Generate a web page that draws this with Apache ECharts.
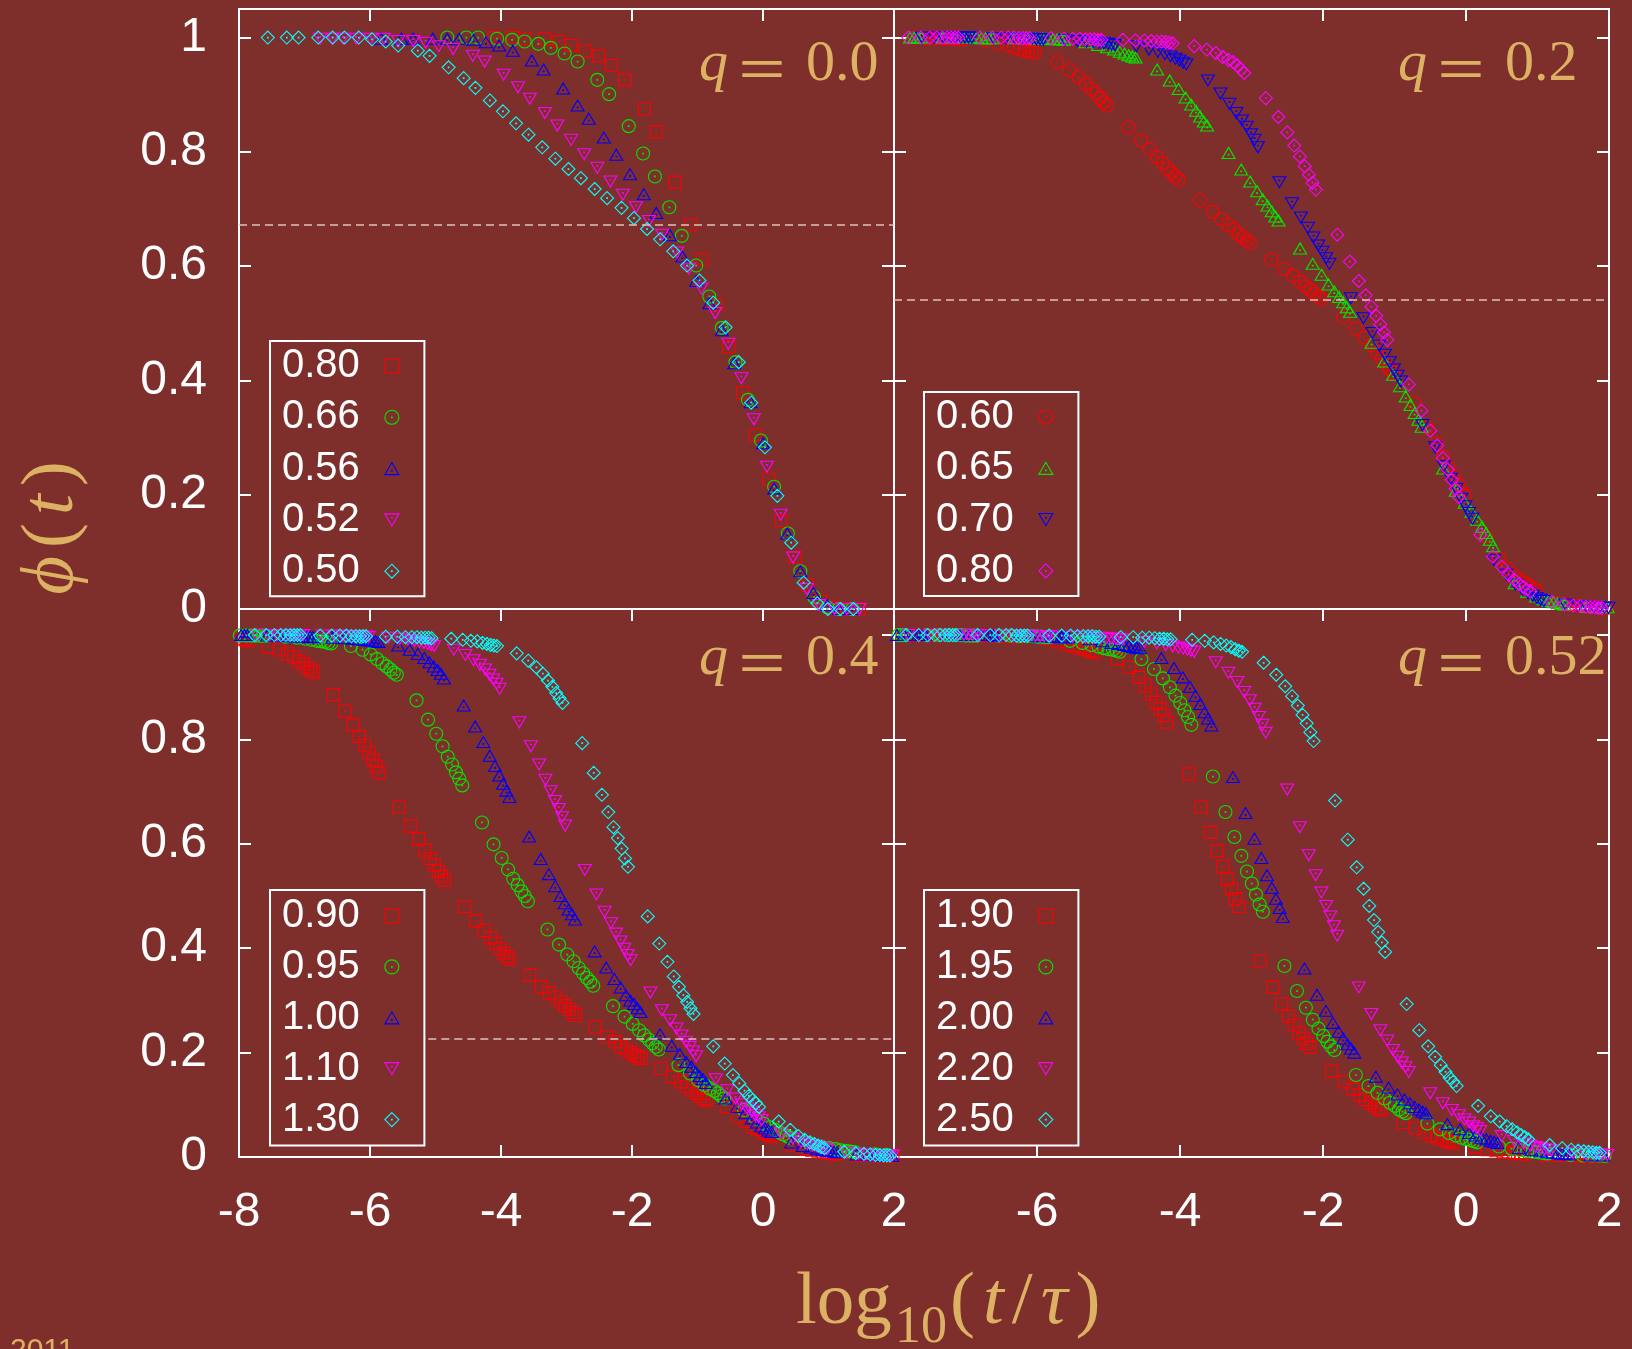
<!DOCTYPE html>
<html><head><meta charset="utf-8">
<script src="https://cdn.jsdelivr.net/npm/echarts@6/dist/echarts.min.js"></script>
<style>html,body{margin:0;padding:0;background:#7e2f2c;}#c{width:1632px;height:1349px;}</style>
</head><body><div id="c"></div>
<script>
// ---------------- DATA ----------------
const Q_LABELS = ['0.0', '0.2', '0.4', '0.52'];
const X_LABELS_LEFT = ['-8', '-6', '-4', '-2', '0', '2'];
const X_LABELS_RIGHT = ['', '-6', '-4', '-2', '0', '2'];
const Y_LABELS_TOP = ['0', '0.2', '0.4', '0.6', '0.8', '1'];
const Y_LABELS_BOTTOM = ['0', '0.2', '0.4', '0.6', '0.8'];
const DASH_LEVELS = [0.673, 0.542, 0.227];
const DASH_START = [-8, -8, -5.11];

const LEG_TL = ['0.80', '0.66', '0.56', '0.52', '0.50'];
const LEG_TR = ['0.60', '0.65', '0.70', '0.80'];
const LEG_BL = ['0.90', '0.95', '1.00', '1.10', '1.30'];
const LEG_BR = ['1.90', '1.95', '2.00', '2.20', '2.50'];

// q = 0.0
const TL_080 = [[-4.11,1.0],[-3.82,1.0],[-3.64,0.998],[-3.33,0.998],[-3.11,0.993],[-2.93,0.986],[-2.71,0.977],[-2.51,0.968],[-2.31,0.951],[-2.11,0.926],[-1.81,0.875],[-1.63,0.835],[-1.34,0.747],[-1.11,0.672],[-0.93,0.612],[-0.71,0.533],[-0.52,0.459],[-0.31,0.379],[-0.12,0.305],[0.09,0.227],[0.28,0.155],[0.49,0.090],[0.68,0.042],[0.88,0.014],[1.07,0.003],[1.28,0.0],[1.47,0.0]];
const TL_066 = [[-4.82,1.0],[-4.53,1.0],[-4.35,1.0],[-4.06,0.998],[-3.83,0.996],[-3.64,0.993],[-3.43,0.989],[-3.24,0.982],[-3.03,0.972],[-2.83,0.958],[-2.53,0.926],[-2.35,0.901],[-2.05,0.845],[-1.83,0.797],[-1.65,0.757],[-1.43,0.703],[-1.24,0.653],[-1.02,0.601],[-0.82,0.547],[-0.63,0.492],[-0.42,0.432],[-0.23,0.366],[-0.03,0.295],[0.17,0.214],[0.38,0.132],[0.57,0.066],[0.78,0.021],[0.98,0.003],[1.16,0.0],[1.36,0.0]];
const TL_056 = [[-5.83,0.998],[-5.52,0.998],[-5.34,0.998],[-5.04,0.998],[-4.82,0.998],[-4.64,0.998],[-4.42,0.996],[-4.23,0.992],[-4.03,0.986],[-3.82,0.977],[-3.53,0.960],[-3.35,0.944],[-3.05,0.911],[-2.83,0.881],[-2.66,0.858],[-2.43,0.825],[-2.24,0.795],[-2.03,0.761],[-1.82,0.726],[-1.63,0.693],[-1.42,0.654],[-1.23,0.617],[-1.02,0.574],[-0.82,0.535],[-0.63,0.488],[-0.44,0.430],[-0.19,0.362],[0.0,0.290],[0.17,0.211],[0.37,0.132],[0.57,0.066],[0.77,0.028],[0.98,0.007],[1.16,0.0],[1.36,0.0]];
const TL_052 = [[-6.76,0.998],[-6.57,0.998],[-6.41,0.998],[-6.21,0.998],[-5.99,0.998],[-5.79,0.998],[-5.57,0.994],[-5.34,0.994],[-5.15,0.991],[-4.95,0.985],[-4.73,0.980],[-4.43,0.968],[-4.25,0.958],[-3.96,0.935],[-3.74,0.913],[-3.56,0.893],[-3.33,0.868],[-3.14,0.846],[-2.93,0.821],[-2.73,0.796],[-2.53,0.772],[-2.33,0.748],[-2.14,0.725],[-1.94,0.703],[-1.74,0.679],[-1.54,0.655],[-1.31,0.624],[-1.13,0.596],[-0.94,0.561],[-0.73,0.518],[-0.53,0.464],[-0.33,0.404],[-0.14,0.332],[0.06,0.249],[0.27,0.165],[0.46,0.090],[0.67,0.035],[0.86,0.007],[1.09,0.0],[1.28,0.0],[1.47,0.0]];
const TL_050 = [[-7.56,1.0],[-7.27,1.0],[-7.09,1.0],[-6.79,1.0],[-6.57,1.0],[-6.39,1.0],[-6.17,1.0],[-5.97,0.997],[-5.76,0.993],[-5.57,0.986],[-5.27,0.977],[-5.09,0.968],[-4.80,0.948],[-4.57,0.929],[-4.39,0.912],[-4.17,0.890],[-3.97,0.871],[-3.77,0.850],[-3.58,0.830],[-3.37,0.808],[-3.17,0.788],[-2.97,0.770],[-2.78,0.754],[-2.57,0.735],[-2.38,0.719],[-2.16,0.702],[-1.97,0.684],[-1.77,0.665],[-1.57,0.647],[-1.37,0.626],[-1.16,0.601],[-0.97,0.575],[-0.76,0.536],[-0.57,0.493],[-0.37,0.432],[-0.18,0.361],[0.03,0.283],[0.22,0.198],[0.43,0.116],[0.62,0.046],[0.83,0.010],[0.99,0.0],[1.18,0.0],[1.38,0.0]];

// q = 0.2
const TR_060 = [[-7.72,1.0],[-7.544,0.999],[-7.419,0.999],[-7.322,0.999],[-7.243,0.998],[-7.176,0.998],[-7.118,0.998],[-7.067,0.997],[-7.021,0.997],
[-6.72,0.995],[-6.544,0.99],[-6.419,0.986],[-6.322,0.982],[-6.243,0.979],[-6.176,0.977],[-6.118,0.976],[-6.067,0.975],[-6.021,0.974],
[-5.72,0.957],[-5.544,0.943],[-5.419,0.931],[-5.322,0.919],[-5.243,0.91],[-5.176,0.902],[-5.118,0.894],[-5.067,0.887],[-5.021,0.881],
[-4.72,0.843],[-4.544,0.82],[-4.419,0.804],[-4.322,0.791],[-4.243,0.781],[-4.176,0.771],[-4.118,0.763],[-4.067,0.757],[-4.021,0.751],
[-3.72,0.715],[-3.544,0.695],[-3.419,0.682],[-3.322,0.672],[-3.243,0.664],[-3.176,0.656],[-3.118,0.65],[-3.067,0.645],[-3.021,0.641],
[-2.72,0.612],[-2.544,0.595],[-2.419,0.583],[-2.322,0.573],[-2.243,0.565],[-2.176,0.558],[-2.118,0.552],[-2.067,0.547],[-2.021,0.543],
[-1.72,0.51],[-1.544,0.491],[-1.419,0.475],[-1.322,0.461],[-1.243,0.449],[-1.176,0.438],[-1.118,0.428],[-1.067,0.42],[-1.021,0.413],
[-0.72,0.36],[-0.544,0.318],[-0.419,0.29],[-0.322,0.267],[-0.243,0.248],[-0.176,0.232],[-0.118,0.219],[-0.067,0.208],[-0.021,0.198],
[0.28,0.127],[0.456,0.089],[0.581,0.071],[0.678,0.058],[0.757,0.051],[0.824,0.045],[0.882,0.04],[0.933,0.036],[0.979,0.033],
[1.28,0.01],[1.456,0.007],[1.581,0.005],[1.678,0.004],[1.757,0.003],[1.824,0.003],[1.882,0.002],[1.933,0.002],[1.979,0.002]];
const TR_065 = [[-7.776,1.0],[-7.718,1.0],[-7.667,1.0],[-7.621,1.0],
[-7.32,1.0],[-7.144,1.0],[-7.019,1.0],[-6.922,1.0],[-6.843,1.0],[-6.776,0.999],[-6.718,0.999],[-6.667,0.999],[-6.621,0.999],
[-6.32,0.999],[-6.144,0.999],[-6.019,0.998],[-5.922,0.998],[-5.843,0.998],[-5.776,0.997],[-5.718,0.997],[-5.667,0.997],[-5.621,0.996],
[-5.32,0.992],[-5.144,0.987],[-5.019,0.983],[-4.922,0.979],[-4.843,0.975],[-4.776,0.972],[-4.718,0.969],[-4.667,0.967],[-4.621,0.965],
[-4.32,0.944],[-4.144,0.925],[-4.019,0.91],[-3.922,0.895],[-3.843,0.883],[-3.776,0.872],[-3.718,0.862],[-3.667,0.853],[-3.621,0.846],
[-3.32,0.798],[-3.144,0.769],[-3.019,0.748],[-2.922,0.731],[-2.843,0.717],[-2.776,0.706],[-2.718,0.696],[-2.667,0.687],[-2.621,0.68],
[-2.32,0.631],[-2.144,0.604],[-2.019,0.585],[-1.922,0.568],[-1.843,0.556],[-1.776,0.546],[-1.718,0.537],[-1.667,0.528],[-1.621,0.52],
[-1.32,0.466],[-1.144,0.433],[-1.019,0.41],[-0.922,0.39],[-0.843,0.372],[-0.776,0.357],[-0.718,0.343],[-0.667,0.331],[-0.621,0.319],
[-0.32,0.246],[-0.144,0.207],[-0.019,0.186],[0.078,0.17],[0.157,0.156],[0.224,0.144],[0.282,0.133],[0.333,0.121],[0.379,0.11],
[0.68,0.045],[0.856,0.03],[0.981,0.022],[1.078,0.017],[1.157,0.014],[1.224,0.012],[1.282,0.01],[1.333,0.009],[1.379,0.008],
[1.68,0.004],[1.856,0.003],[1.981,0.003]];
const TR_070 = [[-7.61,1.0],[-7.434,1.0],[-7.309,1.0],[-7.212,1.0],[-7.133,1.0],[-7.066,1.0],[-7.008,1.0],[-6.957,1.0],[-6.911,1.0],
[-6.61,0.999],[-6.434,0.999],[-6.309,0.999],[-6.212,0.998],[-6.133,0.998],[-6.066,0.998],[-6.008,0.997],[-5.957,0.997],[-5.911,0.997],
[-5.61,0.996],[-5.434,0.994],[-5.309,0.993],[-5.212,0.992],[-5.133,0.991],[-5.066,0.99],[-5.008,0.989],[-4.957,0.988],[-4.911,0.987],
[-4.61,0.985],[-4.434,0.979],[-4.309,0.975],[-4.212,0.971],[-4.133,0.967],[-4.066,0.963],[-4.008,0.96],[-3.957,0.956],[-3.911,0.953],
[-3.61,0.925],[-3.434,0.902],[-3.309,0.884],[-3.212,0.868],[-3.133,0.855],[-3.066,0.844],[-3.008,0.831],[-2.957,0.821],[-2.911,0.808],
[-2.61,0.747],[-2.434,0.71],[-2.309,0.685],[-2.212,0.667],[-2.133,0.65],[-2.066,0.636],[-2.008,0.625],[-1.957,0.614],[-1.911,0.604],
[-1.61,0.544],[-1.434,0.509],[-1.309,0.483],[-1.212,0.461],[-1.133,0.445],[-1.066,0.432],[-1.008,0.419],[-0.957,0.408],[-0.911,0.398],
[-0.61,0.322],[-0.434,0.283],[-0.309,0.25],[-0.212,0.228],[-0.133,0.21],[-0.066,0.193],[-0.008,0.18],[0.043,0.168],[0.089,0.158],
[0.39,0.086],[0.566,0.06],[0.691,0.043],[0.788,0.034],[0.867,0.028],[0.934,0.023],[0.992,0.019],[1.043,0.016],[1.089,0.014],
[1.39,0.008],[1.566,0.005],[1.691,0.004],[1.788,0.003],[1.867,0.003],[1.934,0.002],[1.992,0.002]];
const TR_080 = [[-7.8,1.0],[-7.624,1.0],[-7.499,1.0],[-7.402,1.0],[-7.323,1.0],[-7.256,1.0],[-7.198,1.0],[-7.147,1.0],[-7.101,1.0],
[-6.8,1.0],[-6.624,1.0],[-6.499,1.0],[-6.402,1.0],[-6.323,1.0],[-6.256,0.999],[-6.198,0.999],[-6.147,0.999],[-6.101,0.999],
[-5.8,0.999],[-5.624,0.998],[-5.499,0.998],[-5.402,0.998],[-5.323,0.997],[-5.256,0.997],[-5.198,0.997],[-5.147,0.996],[-5.101,0.996],
[-4.8,0.996],[-4.624,0.995],[-4.499,0.995],[-4.402,0.994],[-4.323,0.993],[-4.256,0.993],[-4.198,0.992],[-4.147,0.991],[-4.101,0.99],
[-3.8,0.985],[-3.624,0.979],[-3.499,0.973],[-3.402,0.966],[-3.323,0.961],[-3.256,0.957],[-3.198,0.951],[-3.147,0.944],[-3.101,0.938],
[-2.8,0.894],[-2.624,0.861],[-2.499,0.834],[-2.402,0.811],[-2.323,0.792],[-2.256,0.775],[-2.198,0.76],[-2.147,0.746],[-2.101,0.734],
[-1.8,0.655],[-1.624,0.608],[-1.499,0.574],[-1.402,0.549],[-1.323,0.529],[-1.256,0.513],[-1.198,0.498],[-1.147,0.484],[-1.101,0.471],
[-0.8,0.393],[-0.624,0.347],[-0.499,0.312],[-0.402,0.286],[-0.323,0.264],[-0.256,0.244],[-0.198,0.226],[-0.147,0.21],[-0.101,0.196],
[0.2,0.13],[0.376,0.092],[0.501,0.074],[0.598,0.06],[0.677,0.051],[0.744,0.044],[0.802,0.038],[0.853,0.034],[0.899,0.031],
[1.2,0.012],[1.376,0.008],[1.501,0.006],[1.598,0.005],[1.677,0.004],[1.744,0.003],[1.802,0.003],[1.853,0.002],[1.899,0.002]];

// q = 0.4
const BL_090 = [[-7.958,0.993],[-7.907,0.991],[-7.861,0.989],
[-7.56,0.977],[-7.384,0.972],[-7.259,0.964],[-7.162,0.958],[-7.083,0.95],[-7.016,0.945],[-6.958,0.938],[-6.907,0.933],[-6.861,0.929],
[-6.56,0.886],[-6.384,0.854],[-6.259,0.828],[-6.162,0.806],[-6.083,0.789],[-6.016,0.774],[-5.958,0.761],[-5.907,0.749],[-5.861,0.736],
[-5.56,0.67],[-5.384,0.634],[-5.259,0.609],[-5.162,0.588],[-5.083,0.572],[-5.016,0.559],[-4.958,0.547],[-4.907,0.538],[-4.861,0.53],
[-4.56,0.48],[-4.384,0.452],[-4.259,0.434],[-4.162,0.42],[-4.083,0.409],[-4.016,0.399],[-3.958,0.391],[-3.907,0.384],[-3.861,0.378],
[-3.56,0.348],[-3.384,0.326],[-3.259,0.314],[-3.162,0.305],[-3.083,0.297],[-3.016,0.29],[-2.958,0.283],[-2.907,0.277],[-2.861,0.271],
[-2.56,0.249],[-2.384,0.23],[-2.259,0.221],[-2.162,0.211],[-2.083,0.205],[-2.016,0.2],[-1.958,0.195],[-1.907,0.192],[-1.861,0.189],
[-1.56,0.17],[-1.384,0.154],[-1.259,0.144],[-1.162,0.135],[-1.083,0.128],[-1.016,0.122],[-0.958,0.117],[-0.907,0.112],[-0.861,0.109],
[-0.56,0.096],[-0.384,0.077],[-0.259,0.068],[-0.162,0.058],[-0.083,0.053],[-0.016,0.048],[0.042,0.045],[0.093,0.042],[0.139,0.04],
[0.44,0.022],[0.616,0.016],[0.741,0.013],[0.838,0.011],[0.917,0.009],[0.984,0.008],[1.042,0.007],[1.093,0.006],[1.139,0.006],
[1.44,0.003],[1.616,0.003],[1.741,0.002],[1.838,0.002],[1.917,0.002],[1.984,0.002]];
const BL_095 = [[-7.989,0.999],[-7.892,0.999],[-7.813,0.999],[-7.746,0.999],[-7.688,0.999],[-7.637,0.999],[-7.591,0.999],
[-7.29,0.997],[-7.114,0.995],[-6.989,0.993],[-6.892,0.991],[-6.813,0.989],[-6.746,0.988],[-6.688,0.987],[-6.637,0.985],[-6.591,0.984],
[-6.29,0.979],[-6.114,0.972],[-5.989,0.963],[-5.892,0.954],[-5.813,0.946],[-5.746,0.94],[-5.688,0.934],[-5.637,0.928],[-5.591,0.924],
[-5.29,0.875],[-5.114,0.838],[-4.989,0.811],[-4.892,0.787],[-4.813,0.767],[-4.746,0.752],[-4.688,0.737],[-4.637,0.725],[-4.591,0.712],
[-4.29,0.641],[-4.114,0.599],[-3.989,0.573],[-3.892,0.551],[-3.813,0.533],[-3.746,0.521],[-3.688,0.509],[-3.637,0.5],[-3.591,0.49],
[-3.29,0.436],[-3.114,0.407],[-2.989,0.388],[-2.892,0.375],[-2.813,0.362],[-2.746,0.352],[-2.688,0.343],[-2.637,0.336],[-2.591,0.328],
[-2.29,0.289],[-2.114,0.269],[-1.989,0.255],[-1.892,0.243],[-1.813,0.233],[-1.746,0.225],[-1.688,0.218],[-1.637,0.211],[-1.591,0.206],
[-1.29,0.176],[-1.114,0.16],[-0.989,0.147],[-0.892,0.138],[-0.813,0.131],[-0.746,0.127],[-0.688,0.122],[-0.637,0.117],[-0.591,0.112],
[-0.29,0.09],[-0.114,0.074],[0.011,0.064],[0.108,0.057],[0.187,0.052],[0.254,0.047],[0.312,0.043],[0.363,0.04],[0.409,0.037],
[0.71,0.026],[0.886,0.02],[1.011,0.017],[1.108,0.015],[1.187,0.013],[1.254,0.012],[1.312,0.011],[1.363,0.01],[1.409,0.009],
[1.71,0.005],[1.886,0.004]];
const BL_100 = [[-7.968,1.0],[-7.917,1.0],[-7.871,1.0],
[-7.57,0.999],[-7.394,0.999],[-7.269,0.998],[-7.172,0.998],[-7.093,0.998],[-7.026,0.997],[-6.968,0.997],[-6.917,0.997],[-6.871,0.996],
[-6.57,0.995],[-6.394,0.994],[-6.269,0.993],[-6.172,0.992],[-6.093,0.991],[-6.026,0.99],[-5.968,0.989],[-5.917,0.988],[-5.871,0.987],
[-5.57,0.98],[-5.394,0.972],[-5.269,0.964],[-5.172,0.956],[-5.093,0.948],[-5.026,0.94],[-4.968,0.933],[-4.917,0.926],[-4.871,0.917],
[-4.57,0.865],[-4.394,0.825],[-4.269,0.795],[-4.172,0.769],[-4.093,0.749],[-4.026,0.731],[-3.968,0.715],[-3.917,0.702],[-3.871,0.69],
[-3.57,0.614],[-3.394,0.571],[-3.269,0.542],[-3.172,0.519],[-3.093,0.5],[-3.026,0.486],[-2.968,0.474],[-2.917,0.465],[-2.871,0.455],
[-2.57,0.394],[-2.394,0.363],[-2.269,0.341],[-2.172,0.325],[-2.093,0.31],[-2.026,0.3],[-1.968,0.293],[-1.917,0.285],[-1.871,0.278],
[-1.57,0.235],[-1.394,0.213],[-1.269,0.197],[-1.172,0.182],[-1.093,0.173],[-1.026,0.163],[-0.968,0.155],[-0.917,0.149],[-0.871,0.142],
[-0.57,0.112],[-0.394,0.096],[-0.269,0.084],[-0.172,0.074],[-0.093,0.066],[-0.026,0.059],[0.032,0.055],[0.083,0.051],[0.129,0.048],
[0.43,0.028],[0.606,0.021],[0.731,0.018],[0.828,0.015],[0.907,0.013],[0.974,0.012],[1.032,0.011],[1.083,0.01],[1.129,0.009],
[1.43,0.005],[1.606,0.004],[1.731,0.003],[1.828,0.003],[1.907,0.003],[1.974,0.002]];
const BL_110 = [[-7.72,1.0],[-7.544,1.0],[-7.419,1.0],[-7.322,1.0],[-7.243,1.0],[-7.176,1.0],[-7.118,1.0],[-7.067,1.0],[-7.021,1.0],
[-6.72,0.999],[-6.544,0.999],[-6.419,0.999],[-6.322,0.998],[-6.243,0.998],[-6.176,0.998],[-6.118,0.998],[-6.067,0.997],[-6.021,0.997],
[-5.72,0.995],[-5.544,0.993],[-5.419,0.991],[-5.322,0.989],[-5.243,0.987],[-5.176,0.985],[-5.118,0.983],[-5.067,0.981],[-5.021,0.979],
[-4.72,0.972],[-4.544,0.962],[-4.419,0.952],[-4.322,0.943],[-4.243,0.934],[-4.176,0.924],[-4.118,0.915],[-4.067,0.907],[-4.021,0.897],
[-3.72,0.833],[-3.544,0.787],[-3.419,0.752],[-3.322,0.723],[-3.243,0.701],[-3.176,0.682],[-3.118,0.667],[-3.067,0.651],[-3.021,0.635],
[-2.72,0.55],[-2.544,0.503],[-2.419,0.47],[-2.322,0.448],[-2.243,0.428],[-2.176,0.413],[-2.118,0.399],[-2.067,0.387],[-2.021,0.377],
[-1.72,0.315],[-1.544,0.281],[-1.419,0.262],[-1.322,0.246],[-1.243,0.233],[-1.176,0.221],[-1.118,0.211],[-1.067,0.202],[-1.021,0.193],
[-0.72,0.149],[-0.544,0.128],[-0.419,0.112],[-0.322,0.101],[-0.243,0.093],[-0.176,0.087],[-0.118,0.08],[-0.067,0.076],[-0.021,0.071],
[0.28,0.045],[0.456,0.035],[0.581,0.029],[0.678,0.025],[0.757,0.022],[0.824,0.02],[0.882,0.018],[0.933,0.016],[0.979,0.015],
[1.28,0.008],[1.456,0.006],[1.581,0.005],[1.678,0.004],[1.757,0.004],[1.824,0.003],[1.882,0.003],[1.933,0.003],[1.979,0.003]];
const BL_130 = [[-7.76,1.0],[-7.584,1.0],[-7.459,1.0],[-7.362,1.0],[-7.283,1.0],[-7.216,1.0],[-7.158,1.0],[-7.107,1.0],[-7.061,1.0],
[-6.76,0.999],[-6.584,0.999],[-6.459,0.999],[-6.362,0.999],[-6.283,0.998],[-6.216,0.998],[-6.158,0.998],[-6.107,0.998],[-6.061,0.998],
[-5.76,0.997],[-5.584,0.997],[-5.459,0.996],[-5.362,0.996],[-5.283,0.996],[-5.216,0.995],[-5.158,0.995],[-5.107,0.995],[-5.061,0.994],
[-4.76,0.993],[-4.584,0.991],[-4.459,0.989],[-4.362,0.988],[-4.283,0.985],[-4.216,0.983],[-4.158,0.981],[-4.107,0.98],[-4.061,0.979],
[-3.76,0.965],[-3.584,0.951],[-3.459,0.938],[-3.362,0.926],[-3.283,0.913],[-3.216,0.901],[-3.158,0.889],[-3.107,0.879],[-3.061,0.87],
[-2.76,0.793],[-2.584,0.736],[-2.459,0.694],[-2.362,0.661],[-2.283,0.632],[-2.216,0.611],[-2.158,0.591],[-2.107,0.572],[-2.061,0.556],
[-1.76,0.461],[-1.584,0.409],[-1.459,0.374],[-1.362,0.346],[-1.283,0.326],[-1.216,0.31],[-1.158,0.297],[-1.107,0.285],[-1.061,0.274],
[-0.76,0.212],[-0.584,0.179],[-0.459,0.157],[-0.362,0.141],[-0.283,0.127],[-0.216,0.117],[-0.158,0.109],[-0.107,0.103],[-0.061,0.096],
[0.24,0.068],[0.416,0.052],[0.541,0.04],[0.638,0.033],[0.717,0.028],[0.784,0.025],[0.842,0.022],[0.893,0.019],[0.939,0.017],
[1.24,0.01],[1.416,0.007],[1.541,0.006],[1.638,0.005],[1.717,0.004],[1.784,0.004],[1.842,0.003],[1.893,0.003],[1.939,0.003]];

// q = 0.52
const BR_190 = [[-7.88,1.0],[-7.704,1.0],[-7.579,1.0],[-7.482,1.0],[-7.403,1.0],[-7.336,1.0],[-7.278,1.0],[-7.227,1.0],[-7.181,1.0],
[-6.88,0.999],[-6.704,0.999],[-6.579,0.999],[-6.482,0.998],[-6.403,0.998],[-6.336,0.998],[-6.278,0.998],[-6.227,0.997],[-6.181,0.997],
[-5.88,0.993],[-5.704,0.987],[-5.579,0.982],[-5.482,0.979],[-5.403,0.976],[-5.336,0.973],[-5.278,0.971],[-5.227,0.969],[-5.181,0.967],
[-4.88,0.954],[-4.704,0.938],[-4.579,0.919],[-4.482,0.903],[-4.403,0.887],[-4.336,0.871],[-4.278,0.859],[-4.227,0.846],[-4.181,0.833],
[-3.88,0.734],[-3.704,0.67],[-3.579,0.622],[-3.482,0.586],[-3.403,0.557],[-3.336,0.532],[-3.278,0.513],[-3.227,0.495],[-3.181,0.48],
[-2.88,0.376],[-2.704,0.325],[-2.579,0.293],[-2.482,0.27],[-2.403,0.253],[-2.336,0.238],[-2.278,0.227],[-2.227,0.218],[-2.181,0.21],
[-1.88,0.165],[-1.704,0.144],[-1.579,0.13],[-1.482,0.119],[-1.403,0.11],[-1.336,0.104],[-1.278,0.098],[-1.227,0.093],[-1.181,0.09],
[-0.88,0.066],[-0.704,0.055],[-0.579,0.047],[-0.482,0.041],[-0.403,0.037],[-0.336,0.034],[-0.278,0.031],[-0.227,0.029],[-0.181,0.027],
[0.12,0.019],[0.296,0.014],[0.421,0.012],[0.518,0.01],[0.597,0.009],[0.664,0.008],[0.722,0.007],[0.773,0.006],[0.819,0.006],
[1.12,0.004],[1.296,0.003],[1.421,0.003],[1.518,0.002],[1.597,0.002],[1.664,0.002],[1.722,0.002],[1.773,0.002],[1.819,0.002]];
const BR_195 = [[-7.938,1.0],[-7.887,1.0],[-7.841,1.0],
[-7.54,1.0],[-7.364,1.0],[-7.239,1.0],[-7.142,1.0],[-7.063,1.0],[-6.996,0.999],[-6.938,0.999],[-6.887,0.999],[-6.841,0.999],
[-6.54,0.999],[-6.364,0.999],[-6.239,0.998],[-6.142,0.998],[-6.063,0.998],[-5.996,0.997],[-5.938,0.997],[-5.887,0.996],[-5.841,0.996],
[-5.54,0.989],[-5.364,0.985],[-5.239,0.981],[-5.142,0.978],[-5.063,0.975],[-4.996,0.973],[-4.938,0.972],[-4.887,0.97],[-4.841,0.968],
[-4.54,0.954],[-4.364,0.935],[-4.239,0.917],[-4.142,0.9],[-4.063,0.884],[-3.996,0.87],[-3.938,0.856],[-3.887,0.843],[-3.841,0.828],
[-3.54,0.729],[-3.364,0.661],[-3.239,0.613],[-3.142,0.577],[-3.063,0.547],[-2.996,0.524],[-2.938,0.503],[-2.887,0.484],[-2.841,0.47],
[-2.54,0.366],[-2.364,0.318],[-2.239,0.286],[-2.142,0.263],[-2.063,0.246],[-1.996,0.232],[-1.938,0.221],[-1.887,0.212],[-1.841,0.205],
[-1.54,0.157],[-1.364,0.136],[-1.239,0.123],[-1.142,0.112],[-1.063,0.104],[-0.996,0.098],[-0.938,0.091],[-0.887,0.087],[-0.841,0.084],
[-0.54,0.064],[-0.364,0.053],[-0.239,0.046],[-0.142,0.041],[-0.063,0.037],[0.004,0.034],[0.062,0.032],[0.113,0.03],[0.159,0.028],
[0.46,0.02],[0.636,0.016],[0.761,0.013],[0.858,0.011],[0.937,0.01],[1.004,0.009],[1.062,0.008],[1.113,0.007],[1.159,0.007],
[1.46,0.004],[1.636,0.003],[1.761,0.003],[1.858,0.003],[1.937,0.002]];
const BR_200 = [[-7.959,1.0],[-7.862,1.0],[-7.783,1.0],[-7.716,1.0],[-7.658,1.0],[-7.607,1.0],[-7.561,1.0],
[-7.26,1.0],[-7.084,1.0],[-6.959,1.0],[-6.862,1.0],[-6.783,1.0],[-6.716,1.0],[-6.658,1.0],[-6.607,0.999],[-6.561,0.999],
[-6.26,0.999],[-6.084,0.998],[-5.959,0.998],[-5.862,0.998],[-5.783,0.997],[-5.716,0.997],[-5.658,0.997],[-5.607,0.996],[-5.561,0.996],
[-5.26,0.992],[-5.084,0.988],[-4.959,0.985],[-4.862,0.983],[-4.783,0.981],[-4.716,0.979],[-4.658,0.977],[-4.607,0.976],[-4.561,0.975],
[-4.26,0.956],[-4.084,0.937],[-3.959,0.919],[-3.862,0.901],[-3.783,0.884],[-3.716,0.868],[-3.658,0.852],[-3.607,0.84],[-3.561,0.827],
[-3.26,0.728],[-3.084,0.659],[-2.959,0.61],[-2.862,0.573],[-2.783,0.54],[-2.716,0.516],[-2.658,0.495],[-2.607,0.477],[-2.561,0.46],
[-2.26,0.361],[-2.084,0.311],[-1.959,0.28],[-1.862,0.257],[-1.783,0.24],[-1.716,0.227],[-1.658,0.216],[-1.607,0.208],[-1.561,0.2],
[-1.26,0.154],[-1.084,0.133],[-0.959,0.12],[-0.862,0.11],[-0.783,0.103],[-0.716,0.096],[-0.658,0.091],[-0.607,0.087],[-0.561,0.084],
[-0.26,0.063],[-0.084,0.053],[0.041,0.046],[0.138,0.041],[0.217,0.037],[0.284,0.034],[0.342,0.031],[0.393,0.029],[0.439,0.027],
[0.74,0.017],[0.916,0.013],[1.041,0.011],[1.138,0.009],[1.217,0.008],[1.284,0.007],[1.342,0.006],[1.393,0.006],[1.439,0.005],
[1.74,0.003],[1.916,0.003]];
const BR_220 = [[-7.801,1.0],
[-7.5,1.0],[-7.324,1.0],[-7.199,1.0],[-7.102,1.0],[-7.023,1.0],[-6.956,1.0],[-6.898,1.0],[-6.847,1.0],[-6.801,1.0],
[-6.5,0.999],[-6.324,0.999],[-6.199,0.999],[-6.102,0.999],[-6.023,0.998],[-5.956,0.998],[-5.898,0.998],[-5.847,0.998],[-5.801,0.998],
[-5.5,0.997],[-5.324,0.996],[-5.199,0.995],[-5.102,0.995],[-5.023,0.994],[-4.956,0.993],[-4.898,0.993],[-4.847,0.992],[-4.801,0.992],
[-4.5,0.987],[-4.324,0.984],[-4.199,0.981],[-4.102,0.978],[-4.023,0.976],[-3.956,0.974],[-3.898,0.972],[-3.847,0.97],[-3.801,0.968],
[-3.5,0.948],[-3.324,0.928],[-3.199,0.91],[-3.102,0.891],[-3.023,0.875],[-2.956,0.859],[-2.898,0.843],[-2.847,0.828],[-2.801,0.813],
[-2.5,0.704],[-2.324,0.632],[-2.199,0.578],[-2.102,0.54],[-2.023,0.507],[-1.956,0.481],[-1.898,0.461],[-1.847,0.442],[-1.801,0.424],
[-1.5,0.325],[-1.324,0.274],[-1.199,0.243],[-1.102,0.223],[-1.023,0.205],[-0.956,0.192],[-0.898,0.181],[-0.847,0.172],[-0.801,0.163],
[-0.5,0.122],[-0.324,0.103],[-0.199,0.09],[-0.102,0.08],[-0.023,0.072],[0.044,0.066],[0.102,0.059],[0.153,0.055],[0.199,0.05],
[0.5,0.04],[0.676,0.031],[0.801,0.026],[0.898,0.022],[0.977,0.019],[1.044,0.017],[1.102,0.015],[1.153,0.014],[1.199,0.013],
[1.5,0.008],[1.676,0.006],[1.801,0.005],[1.898,0.005],[1.977,0.004]];
const BR_250 = [[-7.83,1.0],[-7.654,1.0],[-7.529,1.0],[-7.432,1.0],[-7.353,1.0],[-7.286,1.0],[-7.228,1.0],[-7.177,1.0],[-7.131,1.0],
[-6.83,1.0],[-6.654,1.0],[-6.529,1.0],[-6.432,1.0],[-6.353,1.0],[-6.286,0.999],[-6.228,0.999],[-6.177,0.999],[-6.131,0.999],
[-5.83,0.999],[-5.654,0.999],[-5.529,0.999],[-5.432,0.998],[-5.353,0.998],[-5.286,0.998],[-5.228,0.998],[-5.177,0.997],[-5.131,0.997],
[-4.83,0.996],[-4.654,0.996],[-4.529,0.995],[-4.432,0.995],[-4.353,0.994],[-4.286,0.993],[-4.228,0.993],[-4.177,0.992],[-4.131,0.992],
[-3.83,0.991],[-3.654,0.989],[-3.529,0.986],[-3.432,0.983],[-3.353,0.98],[-3.286,0.977],[-3.228,0.973],[-3.177,0.97],[-3.131,0.968],
[-2.83,0.947],[-2.654,0.924],[-2.529,0.902],[-2.432,0.883],[-2.353,0.865],[-2.286,0.847],[-2.228,0.831],[-2.177,0.814],[-2.131,0.797],
[-1.83,0.683],[-1.654,0.608],[-1.529,0.555],[-1.432,0.514],[-1.353,0.481],[-1.286,0.454],[-1.228,0.431],[-1.177,0.411],[-1.131,0.393],
[-0.83,0.293],[-0.654,0.243],[-0.529,0.212],[-0.432,0.192],[-0.353,0.176],[-0.286,0.163],[-0.228,0.152],[-0.177,0.144],[-0.131,0.136],
[0.17,0.098],[0.346,0.078],[0.471,0.068],[0.568,0.059],[0.647,0.053],[0.714,0.047],[0.772,0.042],[0.823,0.038],[0.869,0.034],
[1.17,0.023],[1.346,0.017],[1.471,0.014],[1.568,0.012],[1.647,0.011],[1.714,0.01],[1.772,0.009],[1.823,0.008],[1.869,0.008]];

// ---------------- STYLE ----------------
const BG = '#7e2f2c';
const GOLD = '#ddb163';
const WHITE = '#ffffff';
const COL = {red:'#ff0000', green:'#00e600', blue:'#0000ff', magenta:'#ff00ff', cyan:'#00ffff'};
const SYM = {
  square: 'path://M0,0L12,0L12,12L0,12ZM5.7,5.7L6.3,5.7L6.3,6.3L5.7,6.3Z',
  circle: 'path://M0,6A6,6,0,1,1,12,6A6,6,0,1,1,0,6ZM5.7,5.7L6.3,5.7L6.3,6.3L5.7,6.3Z',
  up: 'path://M6,0L12,10.4L0,10.4ZM5.7,6.6L6.3,6.6L6.3,7.2L5.7,7.2Z',
  down: 'path://M0,0L12,0L6,10.4ZM5.7,3.2L6.3,3.2L6.3,3.8L5.7,3.8Z',
  diamond: 'path://M6,0L12,6L6,12L0,6ZM5.7,5.7L6.3,5.7L6.3,6.3L5.7,6.3Z'
};
const SSIZE = {square:[12,12], circle:[13,13], up:[13,11], down:[13,11], diamond:[13,13]};

const GRIDS = [
  {left:239, top:9, width:655, height:600},
  {left:894, top:9, width:715, height:600},
  {left:239, top:609, width:655, height:548},
  {left:894, top:609, width:715, height:548}
];

const PANEL_SERIES = [
  [[LEG_TL[0], TL_080, 'red', 'square'], [LEG_TL[1], TL_066, 'green', 'circle'], [LEG_TL[2], TL_056, 'blue', 'up'], [LEG_TL[3], TL_052, 'magenta', 'down'], [LEG_TL[4], TL_050, 'cyan', 'diamond']],
  [[LEG_TR[0], TR_060, 'red', 'circle'], [LEG_TR[1], TR_065, 'green', 'up'], [LEG_TR[2], TR_070, 'blue', 'down'], [LEG_TR[3], TR_080, 'magenta', 'diamond']],
  [[LEG_BL[0], BL_090, 'red', 'square'], [LEG_BL[1], BL_095, 'green', 'circle'], [LEG_BL[2], BL_100, 'blue', 'up'], [LEG_BL[3], BL_110, 'magenta', 'down'], [LEG_BL[4], BL_130, 'cyan', 'diamond']],
  [[LEG_BR[0], BR_190, 'red', 'square'], [LEG_BR[1], BR_195, 'green', 'circle'], [LEG_BR[2], BR_200, 'blue', 'up'], [LEG_BR[3], BR_220, 'magenta', 'down'], [LEG_BR[4], BR_250, 'cyan', 'diamond']]
];

const tickStyle = {color: WHITE, width: 2};
const noLine = {show:false, onZero:false};
const xAxes = [], yAxes = [];
for (let i = 0; i < 4; i++) {
  const isBottom = i >= 2, isRight = i % 2 === 1;
  const xl = isRight ? X_LABELS_RIGHT : X_LABELS_LEFT;
  xAxes.push({type:'value', gridIndex:i, position:'bottom', min:-8, max:2, interval:2,
    axisLine:noLine, splitLine:{show:false},
    axisTick:{show:isBottom, inside:true, length:12, lineStyle:tickStyle},
    axisLabel:{show:isBottom, color:WHITE, fontSize:48, fontFamily:'Liberation Sans', margin:32, lineHeight:48,
      formatter: v => { const k = Math.round((v + 8) / 2); return Math.abs(v - (k * 2 - 8)) < 1e-6 ? (xl[k] || '') : ''; }}});
}
for (let i = 0; i < 4; i++) {
  xAxes.push({type:'value', gridIndex:i, position:'top', min:-8, max:2, interval:2,
    axisLine:noLine, splitLine:{show:false},
    axisTick:{show:true, inside:true, length:12, lineStyle:tickStyle}, axisLabel:{show:false}});
}
for (let i = 0; i < 4; i++) {
  const isBottom = i >= 2, isRight = i % 2 === 1;
  const yl = isBottom ? Y_LABELS_BOTTOM : Y_LABELS_TOP;
  yAxes.push({type:'value', gridIndex:i, position:'left', min:0, max:1.05, interval:0.2,
    axisLine:noLine, splitLine:{show:false},
    axisTick:{show:true, inside:true, length:12, lineStyle:tickStyle},
    axisLabel:{show:!isRight, color:WHITE, fontSize:48, fontFamily:'Liberation Sans', margin:32,
      formatter: v => { const k = Math.round(v / 0.2); return Math.abs(v - k * 0.2) < 1e-6 ? (yl[k] || '') : ''; }}});
}
for (let i = 0; i < 4; i++) {
  yAxes.push({type:'value', gridIndex:i, position:'right', min:0, max:1.05, interval:0.2,
    axisLine:noLine, splitLine:{show:false},
    axisTick:{show:true, inside:true, length:12, lineStyle:tickStyle}, axisLabel:{show:false}});
}

const series = [];
PANEL_SERIES.forEach((list, p) => {
  list.forEach((s, j) => {
    const ser = {
      type:'scatter', name: s[0] + '|' + p, xAxisIndex:p, yAxisIndex:p, data:s[1],
      symbol: SYM[s[3]], symbolSize: SSIZE[s[3]], clip:false, silent:true, animation:false,
      itemStyle:{color:'rgba(0,0,0,0)', borderColor: COL[s[2]], borderWidth: 1.1, opacity: 1},
      emphasis:{disabled:true}, z: 2 + j * 0.01
    };
    if (j === 0 && p < 3) {
      ser.markLine = {silent:true, animation:false, symbol:['none','none'], label:{show:false},
        emphasis:{disabled:true},
        lineStyle:{color:'#dcc4c0', width:1.6, type:[8,5]},
        data:[[{coord:[DASH_START[p], DASH_LEVELS[p]]}, {coord:[2, DASH_LEVELS[p]]}]]};
    }
    series.push(ser);
  });
});

function legendFor(p, left, top, padTop, gap) {
  return {
    orient:'vertical', left:left, top:top, align:'right', selectedMode:false,
    itemWidth:14, itemHeight:14, itemGap:gap,
    padding:[padTop, 25, padTop, 12],
    backgroundColor:BG, borderColor:WHITE, borderWidth:2, borderRadius:0,
    itemStyle:{borderWidth:1.1},
    textStyle:{color:WHITE, fontSize:40, fontFamily:'Liberation Sans', lineHeight:40, padding:[0,20,0,0]},
    formatter: n => n.split('|')[0],
    data: PANEL_SERIES[p].map(s => s[0] + '|' + p),
    z: 10
  };
}
const legends = [
  legendFor(0, 270, 341, 5, 11.3),
  legendFor(1, 924, 392, 5, 11.3),
  legendFor(2, 270, 890, 6, 10.9),
  legendFor(3, 924, 890, 6, 10.9)
];

function qLabel(x, cy, num) {
  return [
    {type:'text', x:x, y:cy, z:20, style:{text:'q', fill:GOLD, fontSize:58, fontStyle:'italic', fontFamily:'Liberation Serif', align:'left', verticalAlign:'middle'}},
    {type:'text', x:x + 36, y:cy + 4, z:20, style:{text:'＝', fill:GOLD, fontSize:54, fontFamily:'Noto Sans CJK JP', align:'left', verticalAlign:'middle'}},
    {type:'text', x:x + 107, y:cy, z:20, style:{text:num, fill:GOLD, fontSize:58, fontFamily:'Liberation Serif', align:'left', verticalAlign:'middle'}}
  ];
}
const richSerif = {
  p:{fontSize:75, fontFamily:'Liberation Serif', fill:GOLD, padding:[0,2,0,2]},
  i:{fontSize:75, fontFamily:'Liberation Serif', fontStyle:'italic', fill:GOLD, padding:[0,6,0,6]}
};
const graphics = [].concat(
  qLabel(699, 65, Q_LABELS[0]), qLabel(1398, 65, Q_LABELS[1]),
  qLabel(699, 659, Q_LABELS[2]), qLabel(1398, 659, Q_LABELS[3]),
  [
    {type:'text', x:796, y:1303, style:{text:'log', fill:GOLD, fontSize:75, fontFamily:'Liberation Serif', align:'left', verticalAlign:'middle'}},
    {type:'text', x:895, y:1328, style:{text:'10', fill:GOLD, fontSize:52, fontFamily:'Liberation Serif', align:'left', verticalAlign:'middle'}},
    {type:'text', x:948, y:1303, style:{text:'{p|(}{i|t}{p|/}{i|τ}{p|)}', rich:richSerif, fill:GOLD, fontSize:75, align:'left', verticalAlign:'middle'}},
    {type:'text', x:52, y:530, rotation:Math.PI/2, style:{text:'{i|ϕ}{p|(}{i|t}{p|)}', rich:richSerif, fill:GOLD, fontSize:75, align:'center', verticalAlign:'middle'}},
    {type:'text', x:10, y:1351, style:{text:'2011', fill:GOLD, fontSize:30, fontFamily:'Liberation Sans', align:'left', verticalAlign:'middle'}}
  ]
);

const chart = echarts.init(document.getElementById('c'), null, {renderer:'canvas', width:1632, height:1349});
chart.setOption({
  backgroundColor: BG,
  animation: false,
  textStyle: {fontFamily:'Liberation Sans'},
  grid: GRIDS.map(g => Object.assign({show:true, borderColor:WHITE, borderWidth:2, backgroundColor:'transparent', containLabel:false, outerBoundsMode:'none'}, g)),
  xAxis: xAxes,
  yAxis: yAxes,
  legend: legends,
  series: series,
  graphic: {elements: graphics}
});
</script></body></html>
